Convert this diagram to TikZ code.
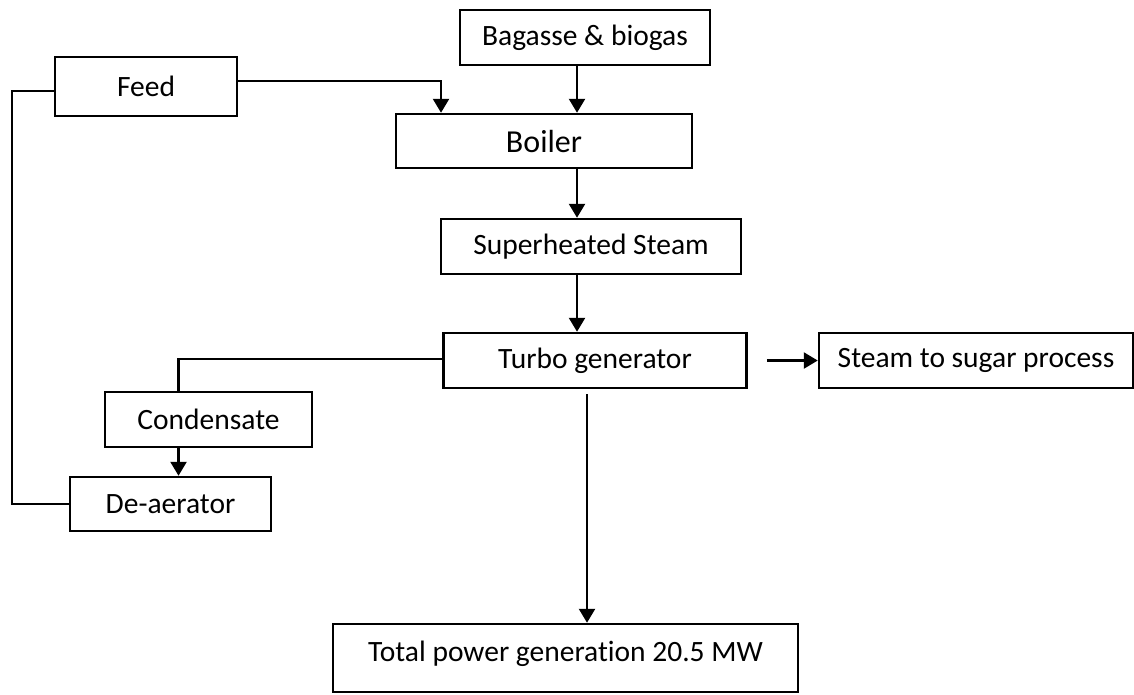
\documentclass[tikz,border=0pt]{standalone}
\usepackage{fontspec}
\setmainfont{Carlito}[Ligatures=NoCommon]
\usetikzlibrary{arrows.meta}

\begin{document}
\begin{tikzpicture}[x=1pt, y=-1pt, % pixel units, y pointing down
    box/.style={draw, line width=2.5pt, inner sep=0pt, font=\fontsize{29.5}{35}\selectfont},
    flow/.style={line width=2.5pt},
    arr/.style={flow, -{Triangle[length=14pt, width=16pt]}}]
        % Fix the page size
        \useasboundingbox (0,0) rectangle (1134,694);

        % Define Coordinates
        \coordinate (Spine) at (577,0);
        \coordinate (Drop) at (587,0);
        \coordinate (Loop) at (12,0);

        % Draw Boxes
        \node[box, minimum width=182pt, minimum height=59pt] (feed) at (146,86.5) {Feed};
        \node[box, minimum width=250pt, minimum height=55pt] (bagasse) at (585,37.5) {Bagasse \& biogas};
        \node[box, minimum width=296pt, minimum height=54pt, font=\fontsize{32}{38}\selectfont] (boiler) at (544,141) {Boiler};
        \node[box, minimum width=300pt, minimum height=55pt] (steam) at (591,246.5) {Superheated Steam};
        \node[box, minimum width=303pt, minimum height=55pt] (turbo) at (595,360.5) {Turbo generator};
        \node[box, minimum width=314pt, minimum height=55pt] (sugar) at (976,360.5) {Steam to sugar process};
        \node[box, minimum width=207pt, minimum height=55pt] (condensate) at (208.5,419.5) {Condensate};
        \node[box, minimum width=201pt, minimum height=54pt] (deaerator) at (170.5,504) {De-aerator};
        \node[box, minimum width=465pt, minimum height=68pt, text depth=13pt] (power) at (565.5,658) {Total power generation 20.5 MW};

        % Fuel and feed into boiler
        \draw[arr] ([yshift=5.5pt]feed.east) -| ([xshift=-103pt]boiler.north);
        \draw[arr] ([xshift=-8pt]bagasse.south) -- ([xshift=-8pt]bagasse.south |- boiler.north);

        % Main steam line
        \draw[arr] (boiler.south -| Spine) -- (steam.north -| Spine);
        \draw[arr] (steam.south -| Spine) -- (turbo.north -| Spine);

        % Turbine outputs
        \draw[arr] ([xshift=19pt]turbo.east) -- (sugar.west);
        \draw[arr] ([yshift=-5pt]turbo.south -| Drop) -- (power.north -| Drop);

        % Condensate return loop
        \draw[flow] ([yshift=1.5pt]turbo.west) -| ([xshift=-30pt]condensate.north);
        \draw[arr] ([xshift=-30pt]condensate.south) -- ([xshift=-30pt]condensate.south |- deaerator.north);
        \draw[flow] (deaerator.west) -- (deaerator.west -| Loop) |- ([yshift=-4.5pt]feed.west);

    \end{tikzpicture}
\end{document}
